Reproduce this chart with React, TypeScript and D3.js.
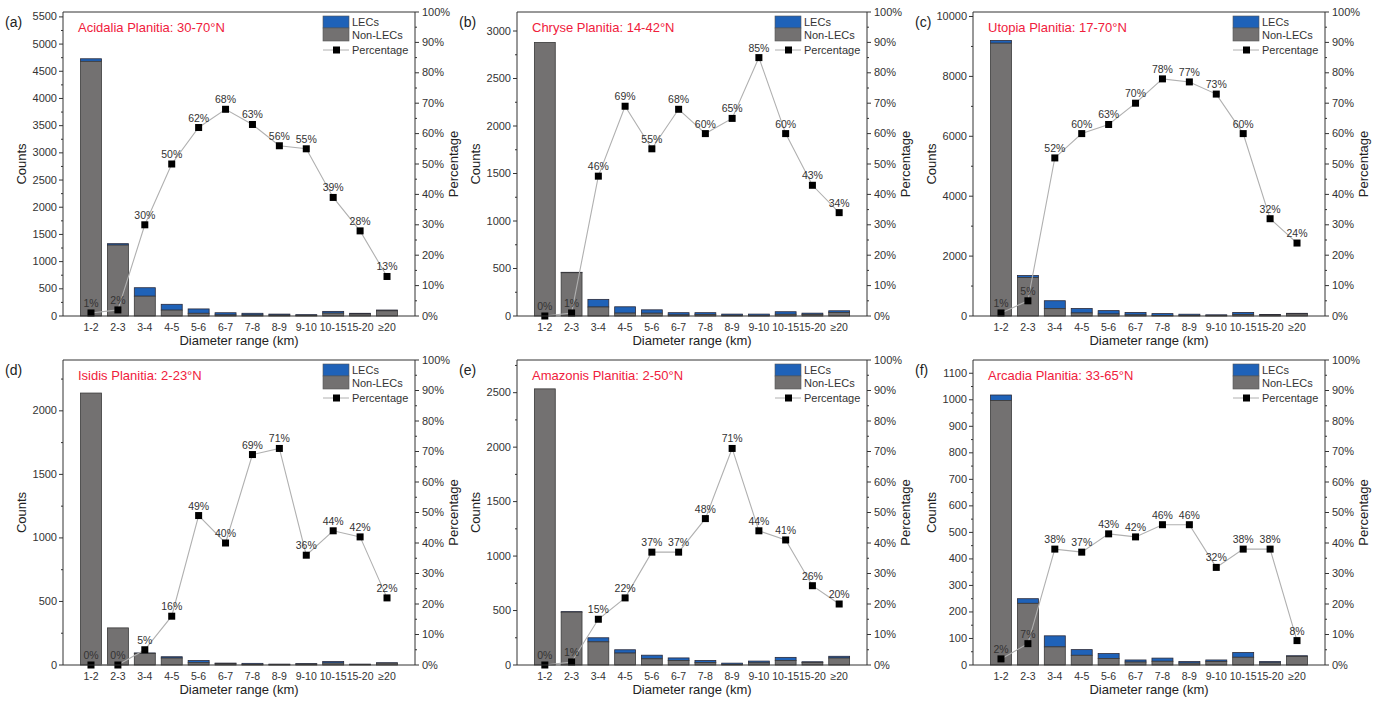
import React from 'react';
import * as d3 from 'd3';

// diameter bins shared by every panel
const categories = ['1-2', '2-3', '3-4', '4-5', '5-6', '6-7', '7-8', '8-9', '9-10', '10-15', '15-20', '≥20'];

// total crater counts per bin and percentage of LECs
const acidaliaTotal = [4730, 1330, 520, 215, 130, 60, 50, 35, 25, 85, 50, 110];
const acidaliaPct = [1, 2, 30, 50, 62, 68, 63, 56, 55, 39, 28, 13];
const chryseTotal = [2880, 460, 175, 97, 65, 35, 35, 20, 20, 45, 30, 55];
const chrysePct = [0, 1, 46, 69, 55, 68, 60, 65, 85, 60, 43, 34];
const utopiaTotal = [9200, 1350, 510, 250, 180, 120, 80, 60, 40, 120, 50, 90];
const utopiaPct = [1, 5, 52, 60, 63, 70, 78, 77, 73, 60, 32, 24];
const isidisTotal = [2140, 292, 95, 65, 35, 15, 13, 7, 11, 27, 7, 18];
const isidisPct = [0, 0, 5, 16, 49, 40, 69, 71, 36, 44, 42, 22];
const amazonisTotal = [2535, 490, 250, 140, 90, 65, 42, 17, 36, 70, 30, 80];
const amazonisPct = [0, 1, 15, 22, 37, 37, 48, 71, 44, 41, 26, 20];
const arcadiaTotal = [1018, 250, 110, 58, 43, 19, 26, 13, 19, 47, 13, 35];
const arcadiaPct = [2, 7, 38, 37, 43, 42, 46, 46, 32, 38, 38, 8];

const pctTicks = [0, 10, 20, 30, 40, 50, 60, 70, 80, 90, 100];

const FONT = '"Liberation Sans", Arial, sans-serif';
const grayFill = '#737171';
const blueFill = '#1f62b8';
const titleRed = '#f0203c';

interface PanelProps {
    tag: string;
    title: string;
    totals: number[];
    pcts: number[];
    yMax: number;
    step: number;
    left: number;
    right: number;
    top: number;
    bottom: number;
}

const Panel: React.FC<PanelProps> = ({ tag, title, totals, pcts, yMax, step, left, right, top, bottom }) => {
    const x = d3.scaleBand<string>()
        .domain(categories)
        .range([left, right])
        .paddingInner(0.22)
        .paddingOuter(0.65);
    const y = d3.scaleLinear().domain([0, yMax]).range([bottom, top]);
    const yp = d3.scaleLinear().domain([0, 100]).range([bottom, top]);

    const rows = categories.map((c, i) => {
        const lec = (totals[i] * pcts[i]) / 100;
        return { c, total: totals[i], non: totals[i] - lec, pct: pcts[i] };
    });

    const majors = d3.range(0, yMax + 1, step);
    const minors = d3.range(step / 2, yMax, step);
    const pctMinors = d3.range(5, 100, 10);

    const cx = (c: string) => (x(c) as number) + x.bandwidth() / 2;
    const line = d3.line<typeof rows[number]>()
        .x((d) => cx(d.c))
        .y((d) => yp(d.pct));

    const midY = (top + bottom) / 2;

    return (
        <g fontFamily={FONT}>
            {/* bars: non-LECs below, LECs stacked on top */}
            {rows.map((d) => (
                <g key={d.c}>
                    <rect x={x(d.c)} y={y(d.total)} width={x.bandwidth()} height={y(d.non) - y(d.total)}
                        fill={blueFill} stroke="#2a2a3a" strokeWidth={0.8} />
                    <rect x={x(d.c)} y={y(d.non)} width={x.bandwidth()} height={bottom - y(d.non)}
                        fill={grayFill} stroke="#3a3a3a" strokeWidth={0.8} />
                </g>
            ))}

            {/* percentage line */}
            <path d={line(rows) || ''} fill="none" stroke="#b0b0b0" strokeWidth={1.1} />
            {rows.map((d) => (
                <g key={'p' + d.c}>
                    <rect x={cx(d.c) - 3.5} y={yp(d.pct) - 3.5} width={7} height={7} fill="#000" />
                    <text x={cx(d.c)} y={yp(d.pct) - 6} textAnchor="middle" fontSize={10.5} fill="#333">
                        {d.pct + '%'}
                    </text>
                </g>
            ))}

            {/* frame */}
            <line x1={left} x2={right} y1={top} y2={top} stroke="#333" />
            <line x1={left} x2={right} y1={bottom} y2={bottom} stroke="#333" />
            <line x1={left} x2={left} y1={top} y2={bottom} stroke="#333" />
            <line x1={right} x2={right} y1={top} y2={bottom} stroke="#333" />

            {/* left axis */}
            {majors.map((v) => (
                <g key={'l' + v}>
                    <line x1={left - 4} x2={left} y1={y(v)} y2={y(v)} stroke="#333" />
                    <text x={left - 6} y={y(v) + 3.5} textAnchor="end" fontSize={11} fill="#333">{v}</text>
                </g>
            ))}
            {minors.map((v) => (
                <line key={'lm' + v} x1={left - 2} x2={left} y1={y(v)} y2={y(v)} stroke="#333" />
            ))}

            {/* right axis */}
            {pctTicks.map((v) => (
                <g key={'r' + v}>
                    <line x1={right} x2={right + 4} y1={yp(v)} y2={yp(v)} stroke="#333" />
                    <text x={right + 7} y={yp(v) + 3.5} fontSize={11} fill="#333">{v + '%'}</text>
                </g>
            ))}
            {pctMinors.map((v) => (
                <line key={'rm' + v} x1={right} x2={right + 2} y1={yp(v)} y2={yp(v)} stroke="#333" />
            ))}

            {/* x axis labels */}
            {categories.map((c) => (
                <text key={'x' + c} x={cx(c)} y={bottom + 15} textAnchor="middle" fontSize={10.5} fill="#333">{c}</text>
            ))}
            <text x={(left + right) / 2} y={bottom + 29} textAnchor="middle" fontSize={13} fill="#222">
                Diameter range (km)
            </text>
            <text transform={`translate(${left - 37},${midY}) rotate(-90)`} textAnchor="middle" fontSize={13} fill="#222">
                Counts
            </text>
            <text transform={`translate(${right + 43},${midY}) rotate(-90)`} textAnchor="middle" fontSize={13} fill="#222">
                Percentage
            </text>

            {/* panel tag and title */}
            <text x={left - 58} y={top + 15} fontSize={14} fill="#222">{tag}</text>
            <text x={left + 15} y={top + 20} fontSize={13} fill={titleRed}>{title}</text>

            {/* legend */}
            <rect x={right - 92} y={top + 4} width={26} height={12} fill={blueFill} stroke="#555" strokeWidth={0.6} />
            <rect x={right - 92} y={top + 16} width={26} height={13} fill={grayFill} stroke="#555" strokeWidth={0.6} />
            <text x={right - 63} y={top + 14} fontSize={11} fill="#333">LECs</text>
            <text x={right - 63} y={top + 27} fontSize={11} fill="#333">Non-LECs</text>
            <line x1={right - 92} x2={right - 66} y1={top + 38} y2={top + 38} stroke="#b0b0b0" />
            <rect x={right - 82} y={top + 34.5} width={7} height={7} fill="#000" />
            <text x={right - 63} y={top + 42} fontSize={11} fill="#333">Percentage</text>
        </g>
    );
};

const App: React.FC = () => {
    const row1 = { top: 12, bottom: 316 };
    const row2 = { top: 360, bottom: 665 };
    const cols = [
        { left: 63, right: 415 },
        { left: 517, right: 867 },
        { left: 973, right: 1325 },
    ];
    return (
        <svg width={1384} height={706} style={{ position: 'absolute', left: 0, top: 0, background: '#fff' }}>
            <Panel tag="(a)" title="Acidalia Planitia: 30-70°N" totals={acidaliaTotal} pcts={acidaliaPct}
                yMax={5590} step={500} {...cols[0]} {...row1} />
            <Panel tag="(b)" title="Chryse Planitia: 14-42°N" totals={chryseTotal} pcts={chrysePct}
                yMax={3200} step={500} {...cols[1]} {...row1} />
            <Panel tag="(c)" title="Utopia Planitia: 17-70°N" totals={utopiaTotal} pcts={utopiaPct}
                yMax={10150} step={2000} {...cols[2]} {...row1} />
            <Panel tag="(d)" title="Isidis Planitia: 2-23°N" totals={isidisTotal} pcts={isidisPct}
                yMax={2400} step={500} {...cols[0]} {...row2} />
            <Panel tag="(e)" title="Amazonis Planitia: 2-50°N" totals={amazonisTotal} pcts={amazonisPct}
                yMax={2800} step={500} {...cols[1]} {...row2} />
            <Panel tag="(f)" title="Arcadia Planitia: 33-65°N" totals={arcadiaTotal} pcts={arcadiaPct}
                yMax={1150} step={100} {...cols[2]} {...row2} />
        </svg>
    );
};

export default App;
